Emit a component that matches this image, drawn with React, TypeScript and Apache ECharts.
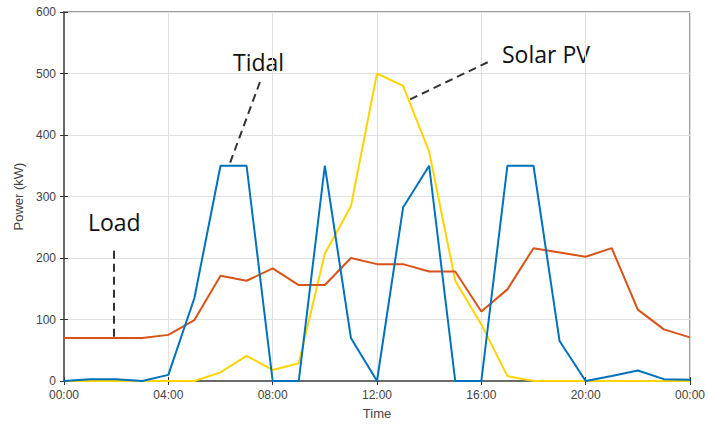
import React, { useEffect, useRef } from "react";
import * as echarts from "echarts";

const hours = [0, 1, 2, 3, 4, 5, 6, 7, 8, 9, 10, 11, 12, 13, 14, 15, 16, 17, 18, 19, 20, 21, 22, 23, 24];
const tidal = [0, 3, 3, 0, 10, 135, 350, 350, 0, 0, 350, 70, 0, 282, 350, 0, 0, 350, 350, 65, 0, 8, 17, 3, 2];
const solar = [0, 0, 0, 0, 0, 0, 14, 41, 18, 29, 207, 284, 500, 480, 373, 163, 92, 8, 0, 0, 0, 0, 0, 0, 0];
const load = [70, 70, 70, 70, 75, 99, 171, 163, 183, 156, 156, 200, 190, 190, 178, 178, 113, 149, 216, 209, 202, 216, 116, 84, 71];

const yTicks = [0, 100, 200, 300, 400, 500, 600];

const tidalPointer = [[6.37, 355], [7.52, 487]];
const solarPointer = [[13.27, 458], [16.33, 520]];
const loadPointer = [[1.92, 72], [1.92, 213]];

const pairs = (ys: number[]) => hours.map((h, i) => [h, ys[i]]);
const fmtHour = (v: number) => {
  const h = Math.round(v) % 24;
  return (h < 10 ? "0" : "") + h + ":00";
};

const dashed = (pts: number[][]) => ({
  silent: true,
  symbol: ["none", "none"],
  label: { show: false },
  lineStyle: { color: "#333", type: [8, 5], width: 2 },
  data: [[{ coord: pts[0] }, { coord: pts[1] }]],
});

export default function App() {
  const ref = useRef<HTMLDivElement>(null);
  useEffect(() => {
    const chart = echarts.init(ref.current!, null, { renderer: "svg" });
    const tickLabel = { color: "#444", fontSize: 12, fontFamily: "Liberation Sans, Arial, sans-serif" };
    chart.setOption({
      animation: false,
      backgroundColor: "#fff",
      grid: { left: 64, right: 18, top: 12, bottom: 45, show: true, borderColor: "#444", borderWidth: 1 },
      xAxis: [
        {
          type: "value",
          min: 0,
          max: 24,
          interval: 4,
          name: "Time",
          nameLocation: "middle",
          nameGap: 26,
          nameTextStyle: { color: "#444", fontSize: 13, fontFamily: "Liberation Sans, Arial, sans-serif" },
          axisLine: { show: true, lineStyle: { color: "#6a6a6a", width: 2 } },
          axisTick: { show: true, inside: true, length: 4, lineStyle: { color: "#333" } },
          axisLabel: { ...tickLabel, formatter: fmtHour, margin: 8 },
          splitLine: { show: true, lineStyle: { color: "#e0e0e0", width: 1 } },
        },
        {
          type: "value",
          position: "top",
          min: 0,
          max: 24,
          interval: 4,
          axisLine: { show: false },
          axisTick: { show: true, inside: true, length: 4, lineStyle: { color: "#333" } },
          axisLabel: { show: false },
          splitLine: { show: false },
        },
      ],
      yAxis: [
        {
          type: "value",
          min: yTicks[0],
          max: yTicks[yTicks.length - 1],
          interval: 100,
          name: "Power (kW)",
          nameLocation: "middle",
          nameGap: 33,
          nameTextStyle: { color: "#444", fontSize: 13, fontFamily: "Liberation Sans, Arial, sans-serif" },
          axisLine: { show: true, lineStyle: { color: "#6a6a6a", width: 2 } },
          axisTick: { show: true, inside: true, length: 4, lineStyle: { color: "#333" } },
          axisLabel: { ...tickLabel, margin: 8 },
          splitLine: { show: true, lineStyle: { color: "#e0e0e0", width: 1 } },
        },
        {
          type: "value",
          position: "right",
          min: 0,
          max: 600,
          interval: 100,
          axisLine: { show: false },
          axisTick: { show: true, inside: true, length: 4, lineStyle: { color: "#333" } },
          axisLabel: { show: false },
          splitLine: { show: false },
        },
      ],
      series: [
        {
          name: "Load",
          type: "line",
          data: pairs(load),
          showSymbol: false,
          lineStyle: { color: "#D95319", width: 2 },
          itemStyle: { color: "#D95319" },
          z: 3,
          markLine: dashed(loadPointer),
        },
        {
          name: "Solar PV",
          type: "line",
          data: pairs(solar),
          showSymbol: false,
          lineStyle: { color: "#FFD400", width: 2 },
          itemStyle: { color: "#FFD400" },
          z: 2,
          markLine: dashed(solarPointer),
        },
        {
          name: "Tidal",
          type: "line",
          data: pairs(tidal),
          showSymbol: false,
          lineStyle: { color: "#0072BD", width: 2 },
          itemStyle: { color: "#0072BD" },
          z: 4,
          markLine: dashed(tidalPointer),
        },
      ],
      graphic: [
        { type: "text", left: 233, top: 50, style: { text: "Tidal", fontSize: 23, fill: "#111", fontFamily: "Open Sans, sans-serif" } },
        { type: "text", left: 502, top: 42, style: { text: "Solar PV", fontSize: 23, fill: "#111", fontFamily: "Open Sans, sans-serif" } },
        { type: "text", left: 88, top: 210, style: { text: "Load", fontSize: 23, fill: "#111", fontFamily: "Open Sans, sans-serif" } },
      ],
    });
    return () => chart.dispose();
  }, []);
  return <div ref={ref} style={{ width: 708, height: 426, position: "absolute", left: 0, top: 0 }} />;
}
